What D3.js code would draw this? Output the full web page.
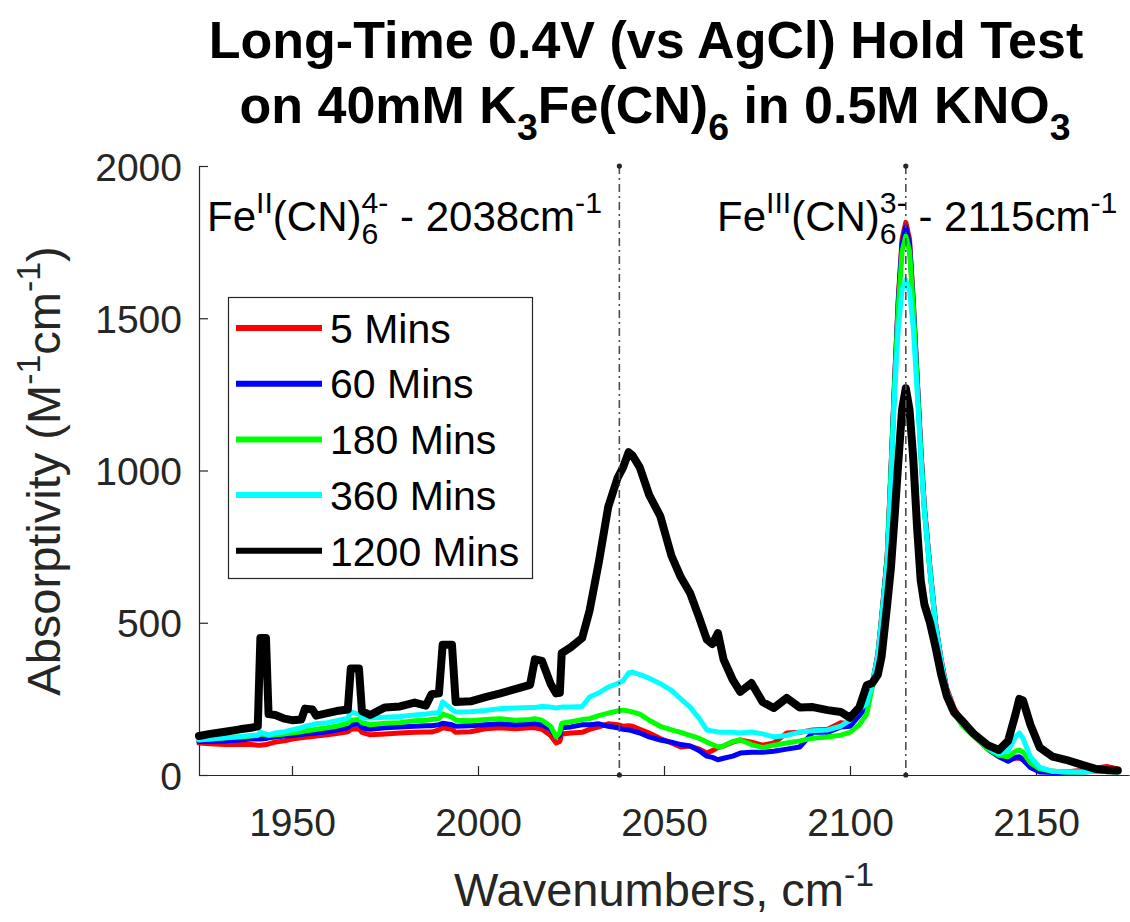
<!DOCTYPE html>
<html>
<head>
<meta charset="utf-8">
<script src="https://cdn.jsdelivr.net/npm/d3@7/dist/d3.min.js"></script>
<style>
  html, body { margin: 0; padding: 0; background: #ffffff; }
  svg { display: block; font-family: "Liberation Sans", Arial, Helvetica, sans-serif; }
  text { white-space: pre; }
</style>
</head>
<body>
<svg id="chart" width="1130" height="922"></svg>
<script>
// Wavenumber grid shared by all spectra (cm^-1)
const wavenumbers = [
  1925, 1928, 1932, 1936, 1939, 1940.8, 1941.5, 1943, 1943.7, 1945.5,
  1948, 1950, 1952.5, 1953.5, 1955.5, 1956.5, 1959.5, 1962, 1965, 1965.8,
  1968, 1968.8, 1971, 1975, 1979, 1983, 1986, 1987.5, 1989.5, 1990.5,
  1993, 1994, 1998, 2002, 2006, 2010, 2014, 2015.3, 2017.2, 2019.5,
  2021, 2022, 2022.5, 2025, 2028, 2030, 2032.5, 2035, 2037.5, 2039,
  2040.5, 2041.5, 2043.5, 2046, 2049, 2052, 2054.5, 2057, 2059.5, 2061.5,
  2063, 2064.5, 2066, 2068.5, 2070.5, 2073.5, 2076.5, 2079.5, 2083, 2086.5,
  2090, 2094, 2097.5, 2100, 2102.5, 2104.5, 2106, 2107.5, 2108.5, 2110,
  2111, 2112, 2113, 2114, 2115, 2116, 2117, 2118, 2119, 2120,
  2121.5, 2123, 2124.5, 2126, 2128, 2130, 2133, 2137, 2140, 2142.5,
  2144.5, 2145.5, 2146.5, 2148.5, 2151, 2154.5, 2158, 2162, 2166, 2169,
  2172
];

// Absorptivity (M^-1 cm^-1) after each hold time
const abs5min = [
  105, 103, 100, 100, 100, 98, 98, 100, 102, 108,
  112, 118, 122, 124, 126, 128, 132, 136, 142, 150,
  152, 140, 132, 135, 138, 140, 141, 141, 148, 155,
  150, 140, 142, 152, 155, 152, 155, 155, 150, 130,
  105, 110, 135, 138, 140, 150, 158, 168, 165, 160,
  162, 160, 150, 138, 120, 105, 92, 95, 85, 72,
  80, 90, 95, 108, 115, 108, 98, 105, 138, 140,
  148, 150, 172, 168, 200, 230, 300, 400, 520, 720,
  1000, 1300, 1570, 1760, 1815, 1760, 1560, 1320, 1080, 880,
  680, 500, 380, 285, 220, 180, 145, 95, 65, 50,
  55, 55, 50, 30, 22, 12, 10, 15, 22, 28,
  20
];
const abs60min = [
  110, 110, 112, 115, 118, 118, 118, 120, 122, 125,
  128, 130, 133, 135, 137, 138, 142, 148, 155, 165,
  168, 155, 150, 155, 158, 160, 162, 162, 165, 170,
  165, 160, 162, 165, 168, 165, 168, 168, 165, 150,
  125, 130, 155, 158, 165, 165, 168, 160, 155, 150,
  148, 145, 138, 125, 115, 108, 100, 95, 80, 62,
  58, 50, 55, 62, 72, 75, 75, 78, 85, 92,
  140, 140, 158, 160, 195, 225, 295, 395, 515, 715,
  995, 1295, 1560, 1745, 1800, 1745, 1550, 1315, 1075, 875,
  675, 495, 375, 280, 210, 170, 135, 85, 60, 45,
  58, 60, 50, 25, 10, 8, 8, 10, 12, 12,
  10
];
const abs180min = [
  118, 118, 122, 125, 128, 130, 135, 132, 130, 132,
  135, 138, 142, 145, 148, 150, 155, 160, 170, 180,
  182, 172, 165, 170, 172, 178, 180, 182, 185, 200,
  190, 180, 178, 182, 185, 180, 182, 185, 180, 160,
  125, 140, 170, 175, 182, 185, 195, 203, 210, 213,
  210, 207, 200, 180, 160, 148, 140, 130, 120, 108,
  100, 92, 95, 110, 115, 100, 90, 98, 105, 112,
  121, 125, 131, 140, 165, 200, 290, 390, 510, 710,
  990, 1285, 1540, 1720, 1770, 1720, 1540, 1300, 1065, 870,
  670, 490, 370, 275, 205, 165, 130, 85, 65, 60,
  78, 82, 75, 40, 20, 12, 10, 10, 12, 12,
  10
];
const abs360min = [
  115, 118, 122, 126, 130, 132, 140, 135, 132, 138,
  142, 148, 155, 160, 165, 168, 172, 178, 187, 207,
  200, 187, 187, 190, 192, 197, 200, 203, 205, 240,
  215, 207, 208, 212, 218, 220, 222, 222, 225, 223,
  220, 222, 223, 223, 225, 256, 270, 289, 300, 310,
  335, 338, 330, 318, 300, 278, 250, 223, 185, 148,
  145, 141, 140, 140, 138, 141, 135, 125, 130, 141,
  145, 148, 160, 180, 215, 235, 300, 395, 510, 700,
  970, 1260, 1470, 1595, 1625, 1590, 1470, 1270, 1050, 865,
  670, 495, 375, 280, 210, 170, 135, 90, 70, 80,
  125, 138, 120, 60, 25, 12, 10, 10, 12, 12,
  10
];
const abs1200min = [
  128, 135, 142, 150, 155, 160, 450, 450, 200, 197,
  185, 180, 182, 218, 215, 195, 203, 210, 215, 350,
  350, 210, 197, 222, 225, 238, 228, 265, 268, 428,
  428, 240, 242, 256, 268, 282, 296, 380, 375, 300,
  268, 270, 400, 420, 450, 540, 700, 880, 975, 1010,
  1060, 1050, 1010, 920, 850, 720, 650, 598, 515, 445,
  430, 466, 380, 312, 273, 302, 240, 220, 253, 222,
  223, 213, 207, 188, 222, 295, 302, 330, 390, 560,
  680, 850, 1030, 1200, 1270, 1200, 1040, 820, 640, 560,
  500, 420, 330, 260, 205, 180, 138, 98, 82, 112,
  200, 250, 245, 165, 90, 60, 50, 35, 20, 16,
  15
];

const seriesNames = ["5 Mins", "60 Mins", "180 Mins", "360 Mins", "1200 Mins"];
const seriesValues = [abs5min, abs60min, abs180min, abs360min, abs1200min];
const seriesColors = ["#ff0000", "#0000ff", "#00ff00", "#00ffff", "#000000"];

const xTicks = [1950, 2000, 2050, 2100, 2150];
const yTicks = [0, 500, 1000, 1500, 2000];
const peakPositions = [2038, 2115];

// ---- layout ----
const svg = d3.select("#chart");
const plot = { left: 199, right: 1129, top: 166, bottom: 775 };
const axisColor = "#262626";

const x = d3.scaleLinear().domain([1925, 2175]).range([plot.left, plot.right]);
const y = d3.scaleLinear().domain([0, 2000]).range([plot.bottom, plot.top]);

// Rich text with superscripts / subscripts (sub+sup stack like MATLAB TeX)
function richText(parent, px, py, parts, opts) {
  const size = opts.size;
  const small = size * 0.72;
  const outer = parent.append("g")
    .attr("transform", `translate(${px},${py})` + (opts.rotate ? ` rotate(${opts.rotate})` : ""));
  const inner = outer.append("g");
  let cx = 0;
  const weight = opts.weight || "normal";
  const fill = opts.fill || "#000";
  parts.forEach(p => {
    if (p.t !== undefined) {
      const el = inner.append("text").attr("x", cx).attr("y", 0)
        .attr("font-size", size).attr("font-weight", weight).attr("fill", fill).text(p.t);
      cx += el.node().getComputedTextLength();
    } else {
      let w = 0;
      if (p.sup !== undefined) {
        const el = inner.append("text").attr("x", cx).attr("y", -size * 0.42)
          .attr("font-size", small).attr("font-weight", weight).attr("fill", fill).text(p.sup);
        w = Math.max(w, el.node().getComputedTextLength());
      }
      if (p.sub !== undefined) {
        const el = inner.append("text").attr("x", cx).attr("y", size * 0.32)
          .attr("font-size", small).attr("font-weight", weight).attr("fill", fill).text(p.sub);
        w = Math.max(w, el.node().getComputedTextLength());
      }
      cx += w;
    }
  });
  const shift = opts.anchor === "middle" ? -cx / 2 : (opts.anchor === "end" ? -cx : 0);
  inner.attr("transform", `translate(${shift},0)`);
  return outer;
}

// ---- title ----
svg.append("text")
  .attr("x", 646).attr("y", 58)
  .attr("text-anchor", "middle")
  .attr("font-size", 52).attr("font-weight", "bold").attr("fill", "#000")
  .text("Long-Time 0.4V (vs AgCl) Hold Test");
richText(svg, 655, 123, [
  { t: "on 40mM K" }, { sub: "3" }, { t: "Fe(CN)" }, { sub: "6" }, { t: " in 0.5M KNO" }, { sub: "3" }
], { size: 52, weight: "bold", anchor: "middle" });

// ---- axes ----
const xAxis = d3.axisBottom(x).tickValues(xTicks).tickSizeInner(-9).tickSizeOuter(0).tickPadding(33)
  .tickFormat(d3.format("d"));
const gx = svg.append("g").attr("transform", `translate(0,${plot.bottom})`).call(xAxis);
const yAxis = d3.axisLeft(y).tickValues(yTicks).tickSizeInner(-9).tickSizeOuter(0).tickPadding(17)
  .tickFormat(d3.format("d"));
const gy = svg.append("g").attr("transform", `translate(${plot.left},0)`).call(yAxis);
[gx, gy].forEach(g => {
  g.select(".domain").attr("stroke", axisColor).attr("stroke-width", 1.2);
  g.selectAll(".tick line").attr("stroke", axisColor).attr("stroke-width", 1.2);
  g.selectAll(".tick text").attr("fill", axisColor).attr("font-size", 39)
    .attr("font-family", "Liberation Sans, Arial, sans-serif");
});
gy.selectAll(".tick text").attr("dy", "0.36em");

// ---- axis labels ----
richText(svg, 664, 906, [{ t: "Wavenumbers, cm" }, { sup: "-1" }],
  { size: 47, anchor: "middle", fill: axisColor });
richText(svg, 60, 471, [{ t: "Absorptivity (M" }, { sup: "-1" }, { t: "cm" }, { sup: "-1" }, { t: ")" }],
  { size: 47, anchor: "middle", rotate: -90, fill: axisColor });

// ---- spectra ----
const line = d3.line()
  .x((d, i) => x(wavenumbers[i]))
  .y(d => y(d));
const curves = svg.append("g");
seriesValues.forEach((vals, k) => {
  curves.append("path")
    .datum(vals)
    .attr("d", line)
    .attr("fill", "none")
    .attr("stroke", seriesColors[k])
    .attr("stroke-width", k === 4 ? 8 : 5)
    .attr("stroke-linejoin", "round")
    .attr("stroke-linecap", "round");
});

// ---- peak position markers ----
const markers = svg.append("g");
peakPositions.forEach(p => {
  markers.append("line")
    .attr("x1", x(p)).attr("x2", x(p))
    .attr("y1", y(2000)).attr("y2", y(0))
    .attr("stroke", "#4d4d4d").attr("stroke-width", 1.6)
    .attr("stroke-dasharray", "8,4,2,4");
  [2000, 0].forEach(v => {
    markers.append("circle").attr("cx", x(p)).attr("cy", y(v)).attr("r", 2.6).attr("fill", "#262626");
  });
});

// ---- peak annotations ----
richText(svg, 207, 231, [
  { t: "Fe" }, { sup: "II" }, { t: "(CN)" }, { sub: "6", sup: "4-" }, { t: " - 2038cm" }, { sup: "-1" }
], { size: 42, fill: "#000" });
richText(svg, 717, 231, [
  { t: "Fe" }, { sup: "III" }, { t: "(CN)" }, { sub: "6", sup: "3-" }, { t: " - 2115cm" }, { sup: "-1" }
], { size: 42, fill: "#000" });

// ---- legend ----
const legend = svg.append("g");
legend.append("rect")
  .attr("x", 228.5).attr("y", 297.5).attr("width", 304).attr("height", 281)
  .attr("fill", "#fff").attr("stroke", axisColor).attr("stroke-width", 1.2);
seriesNames.forEach((name, k) => {
  const ly = 328 + k * 55.7;
  legend.append("line")
    .attr("x1", 236).attr("x2", 322).attr("y1", ly).attr("y2", ly)
    .attr("stroke", seriesColors[k]).attr("stroke-width", 6);
  legend.append("text")
    .attr("x", 330).attr("y", ly).attr("dy", "0.36em")
    .attr("font-size", 41).attr("fill", "#000")
    .text(name);
});
</script>
</body>
</html>
